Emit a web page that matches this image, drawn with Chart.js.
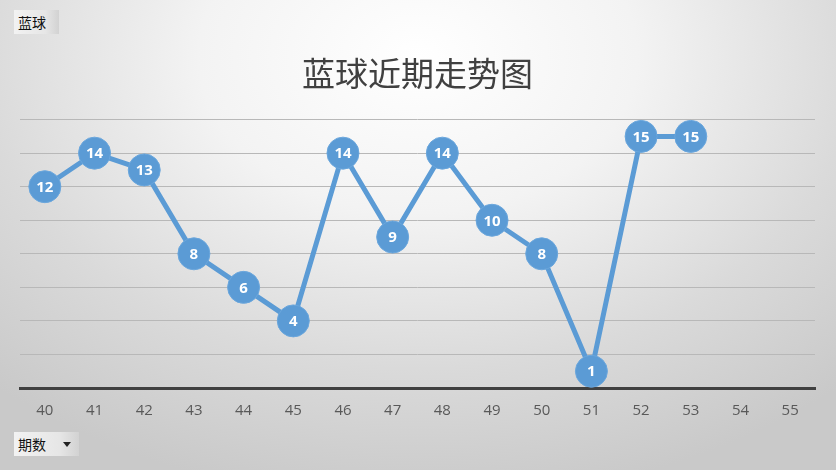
<!DOCTYPE html>
<html>
<head>
<meta charset="utf-8">
<script src="https://cdn.jsdelivr.net/npm/chart.js@4/dist/chart.umd.min.js"></script>
<style>
  html, body { margin: 0; padding: 0; }
  body {
    width: 836px;
    height: 470px;
    overflow: hidden;
    position: relative;
    background: radial-gradient(ellipse 75% 95% at 50% 12%, #ffffff 0%, #f3f3f3 35%, #dadada 70%, #c9c9c9 100%);
    font-family: "Noto Sans CJK SC", sans-serif;
  }
  #wrap { position: absolute; left: 0; top: 0; width: 836px; height: 470px; }
  .btn {
    position: absolute;
    height: 24px;
    line-height: 24px;
    font-size: 14px;
    color: #111;
    padding-left: 4px;
    box-sizing: border-box;
    background: linear-gradient(to right, #f2f2f2 0%, #e6e6e6 70%, #d2d2d2 100%);
  }
  #b1 { left: 14px; top: 10px; width: 45px; }
  #b2 { left: 14px; top: 432px; width: 65px; }
  #b2 .arr {
    position: absolute; left: 49px; top: 10px;
    width: 0; height: 0;
    border-left: 4px solid transparent;
    border-right: 4px solid transparent;
    border-top: 5px solid #222;
  }
</style>
</head>
<body>
<div id="wrap"><canvas id="chart" width="836" height="470"></canvas></div>
<div class="btn" id="b1">蓝球</div>
<div class="btn" id="b2">期数<span class="arr"></span></div>
<script>
const periods = ["40", "41", "42", "43", "44", "45", "46", "47", "48", "49", "50", "51", "52", "53", "54", "55"];
const blueBall = [12, 14, 13, 8, 6, 4, 14, 9, 14, 10, 8, 1, 15, 15, null, null];
const chartTitle = "蓝球近期走势图";

const blue = "#5b9bd5";

// white numbers inside the circles
const pointLabels = {
  id: "pointLabels",
  afterDatasetsDraw(chart) {
    const ctx = chart.ctx;
    const meta = chart.getDatasetMeta(0);
    ctx.save();
    ctx.fillStyle = "#ffffff";
    ctx.font = "bold 15px 'Open Sans', 'Liberation Sans', sans-serif";
    ctx.textAlign = "center";
    ctx.textBaseline = "middle";
    meta.data.forEach((pt, i) => {
      const v = blueBall[i];
      if (v === null || v === undefined) return;
      ctx.fillText(String(v), pt.x, pt.y + 1);
    });
    ctx.restore();
  }
};

new Chart(document.getElementById("chart"), {
  type: "line",
  data: {
    labels: periods,
    datasets: [
      {
        label: "蓝球",
        data: blueBall,
        borderColor: blue,
        backgroundColor: blue,
        borderWidth: 5,
        tension: 0,
        pointRadius: 16,
        pointBorderWidth: 1,
        pointBorderColor: "#6aa6dc",
        pointBackgroundColor: blue,
        fill: false
      }
    ]
  },
  options: {
    responsive: false,
    animation: false,
    layout: { padding: { left: 20, right: 21, top: 0, bottom: 36 } },
    plugins: {
      legend: { display: false },
      tooltip: { enabled: false },
      title: {
        display: true,
        text: chartTitle,
        color: "#404040",
        font: { family: "'Noto Sans CJK SC', serif", size: 33, weight: "normal" },
        padding: { top: 54, bottom: 26 }
      }
    },
    scales: {
      x: {
        offset: true,
        grid: { display: false, drawTicks: false },
        border: { display: true, color: "#404040", width: 3 },
        ticks: {
          color: "#595959",
          padding: 14,
          font: { family: "'Open Sans', 'Liberation Sans', sans-serif", size: 15 }
        }
      },
      y: {
        min: 0,
        max: 16,
        ticks: { display: false, stepSize: 2 },
        grid: { color: "#b8b8b8", lineWidth: 1, drawTicks: false },
        border: { display: false }
      }
    }
  },
  plugins: [pointLabels]
});
</script>
</body>
</html>
